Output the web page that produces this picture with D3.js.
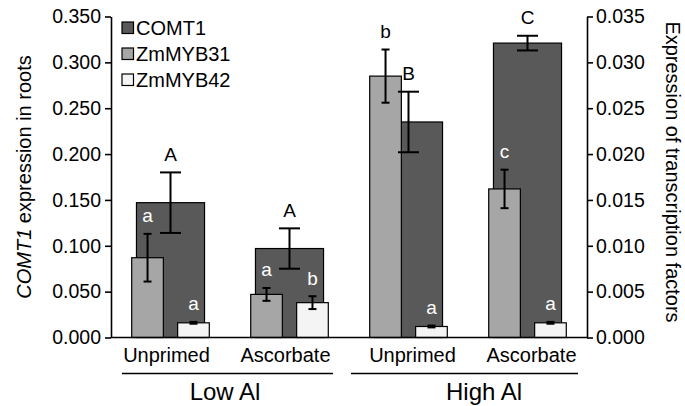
<!DOCTYPE html>
<title>COMT1 and transcription factors</title>
<body>
<script src="https://d3js.org/d3.v7.min.js" charset="utf-8"></script>
<style>
  html, body {
    width: 100%;
    height: 100%;
    margin: 0;
    background: #fff;
    overflow: hidden;
  }
  text { font-family: "Liberation Sans", Arial, sans-serif; }
</style>
<script>
  // values
  var conditions = ["Low-Unprimed", "Low-Ascorbate", "High-Unprimed", "High-Ascorbate"],
    treatLabels = ["Unprimed", "Ascorbate", "Unprimed", "Ascorbate"],
    groups = ["Low Al", "High Al"];

  var comt1 = [0.147, 0.097, 0.235, 0.321],
    comt1Err = [0.033, 0.022, 0.033, 0.008],
    comt1Sig = ["A", "A", "B", "C"];

  var myb31 = [0.0087, 0.0047, 0.0285, 0.0162],
    myb31Err = [0.0026, 0.0007, 0.0029, 0.0021],
    myb31Sig = ["a", "a", "b", "c"];

  var myb42 = [0.0016, 0.0038, 0.0012, 0.0016],
    myb42Err = [0.0001, 0.0007, 0.0001, 0.0001],
    myb42Sig = ["a", "b", "a", "a"];

  var leftTicks = [0, 0.05, 0.1, 0.15, 0.2, 0.25, 0.3, 0.35],
    rightTicks = [0, 0.005, 0.01, 0.015, 0.02, 0.025, 0.03, 0.035];

  var colors = { COMT1: "#595959", ZmMYB31: "#a6a6a6", ZmMYB42: "#f4f4f4" };

  // note: "top" is taken by window.top, so plot edges get their own names
  var width = 685, height = 406,
    plotL = 111, plotR = 587, plotT = 16.5, plotB = 337.5;

  var svg = d3.select("body").append("svg")
    .attr("width", width)
    .attr("height", height);

  var x = d3.scaleBand().domain(conditions).range([plotL, plotR]);
  var yL = d3.scaleLinear().domain([0, 0.35]).range([plotB, plotT]);
  var yR = d3.scaleLinear().domain([0, 0.035]).range([plotB, plotT]);

  var bw = x.bandwidth(),
    wideW = bw * 0.572,
    narrowW = bw * 0.266,
    off = bw * 0.193;

  function cx(i) { return x(conditions[i]) + bw / 2; }

  // series description: which scale, where in the band, how wide
  var series = [
    { name: "COMT1", vals: comt1, err: comt1Err, sig: comt1Sig, y: yL, dx: 0, w: wideW, cap: 21,
      sigColor: ["#000", "#000", "#000", "#000"] },
    { name: "ZmMYB31", vals: myb31, err: myb31Err, sig: myb31Sig, y: yR, dx: -off, w: narrowW, cap: 8,
      sigColor: ["#fff", "#fff", "#000", "#fff"] },
    { name: "ZmMYB42", vals: myb42, err: myb42Err, sig: myb42Sig, y: yR, dx: off, w: narrowW, cap: 8,
      sigColor: ["#fff", "#fff", "#fff", "#fff"] }
  ];

  // bars
  series.forEach(function(s) {
    svg.append("g").selectAll("rect")
      .data(s.vals)
      .enter().append("rect")
      .attr("x", function(d, i) { return cx(i) + s.dx - s.w / 2; })
      .attr("y", function(d) { return s.y(d); })
      .attr("width", s.w)
      .attr("height", function(d) { return plotB - s.y(d); })
      .attr("fill", colors[s.name])
      .attr("stroke", "#000")
      .attr("stroke-width", 1.2);
  });

  // error bars and letters
  series.forEach(function(s) {
    var g = svg.append("g").attr("stroke", "#000").attr("stroke-width", 2);
    s.vals.forEach(function(d, i) {
      var xc = cx(i) + s.dx,
        hi = s.y(d + s.err[i]),
        lo = s.y(d - s.err[i]);
      g.append("line").attr("x1", xc).attr("x2", xc).attr("y1", hi).attr("y2", lo);
      g.append("line").attr("x1", xc - s.cap / 2).attr("x2", xc + s.cap / 2).attr("y1", hi).attr("y2", hi);
      g.append("line").attr("x1", xc - s.cap / 2).attr("x2", xc + s.cap / 2).attr("y1", lo).attr("y2", lo);
      svg.append("text")
        .attr("x", xc)
        .attr("y", hi - 11.5)
        .attr("text-anchor", "middle")
        .attr("font-size", "19px")
        .attr("fill", s.sigColor[i])
        .text(s.sig[i]);
    });
  });

  // axes
  var axL = svg.append("g")
    .attr("transform", "translate(" + plotL + ",0)")
    .call(d3.axisLeft(yL).tickValues(leftTicks).tickFormat(d3.format(".3f")).tickSize(6).tickSizeOuter(0));
  var axR = svg.append("g")
    .attr("transform", "translate(" + plotR + ",0)")
    .call(d3.axisRight(yR).tickValues(rightTicks).tickFormat(d3.format(".3f")).tickSize(6).tickSizeOuter(0));
  [axL, axR].forEach(function(a) {
    a.selectAll("path, line").attr("stroke", "#000").attr("stroke-width", 1.6);
    a.selectAll("text").attr("font-size", "19.5px").attr("fill", "#000")
      .attr("font-family", "'Liberation Sans', Arial, sans-serif");
  });
  axL.selectAll("text").attr("x", -10);
  axR.selectAll("text").attr("x", 9);

  svg.append("line")
    .attr("x1", plotL).attr("x2", plotR)
    .attr("y1", plotB).attr("y2", plotB)
    .attr("stroke", "#000").attr("stroke-width", 1.6);

  // axis titles
  var tl = svg.append("text")
    .attr("transform", "translate(31," + (plotT + plotB) / 2 + ") rotate(-90)")
    .attr("text-anchor", "middle")
    .attr("font-size", "20px");
  tl.append("tspan").attr("font-style", "italic").text("COMT1");
  tl.append("tspan").text(" expression in roots");

  svg.append("text")
    .attr("transform", "translate(666,172) rotate(90)")
    .attr("text-anchor", "middle")
    .attr("font-size", "20px")
    .text("Expression of transcription factors");

  // category labels
  svg.append("g").selectAll("text")
    .data(treatLabels)
    .enter().append("text")
    .attr("x", function(d, i) { return cx(i) + (i < 2 ? -4 : 4); })
    .attr("y", 362)
    .attr("text-anchor", "middle")
    .attr("font-size", "20px")
    .text(function(d) { return d; });

  // group lines and labels
  groups.forEach(function(gname, k) {
    var a = x(conditions[k * 2]), b = x(conditions[k * 2 + 1]) + bw;
    var x1 = a + (k ? 2 : 11), x2 = b - (k ? 9 : 16);
    svg.append("line")
      .attr("x1", x1).attr("x2", x2)
      .attr("y1", 373.5).attr("y2", 373.5)
      .attr("stroke", "#000").attr("stroke-width", 1.6);
    svg.append("text")
      .attr("x", (a + b) / 2 + (k ? 16 : -5))
      .attr("y", 399.5)
      .attr("text-anchor", "middle")
      .attr("font-family", "'Open Sans', sans-serif")
      .attr("font-size", "24px")
      .text(gname);
  });

  // legend
  var legend = svg.append("g").attr("transform", "translate(122,0)");
  series.forEach(function(s, i) {
    var yy = 28 + i * 26;
    legend.append("rect")
      .attr("x", 0).attr("y", yy - 6)
      .attr("width", 11.5).attr("height", 11.5)
      .attr("fill", colors[s.name])
      .attr("stroke", "#000").attr("stroke-width", 1.2);
    legend.append("text")
      .attr("x", 14).attr("y", yy + 7)
      .attr("font-size", "20px")
      .text(s.name);
  });
</script>
